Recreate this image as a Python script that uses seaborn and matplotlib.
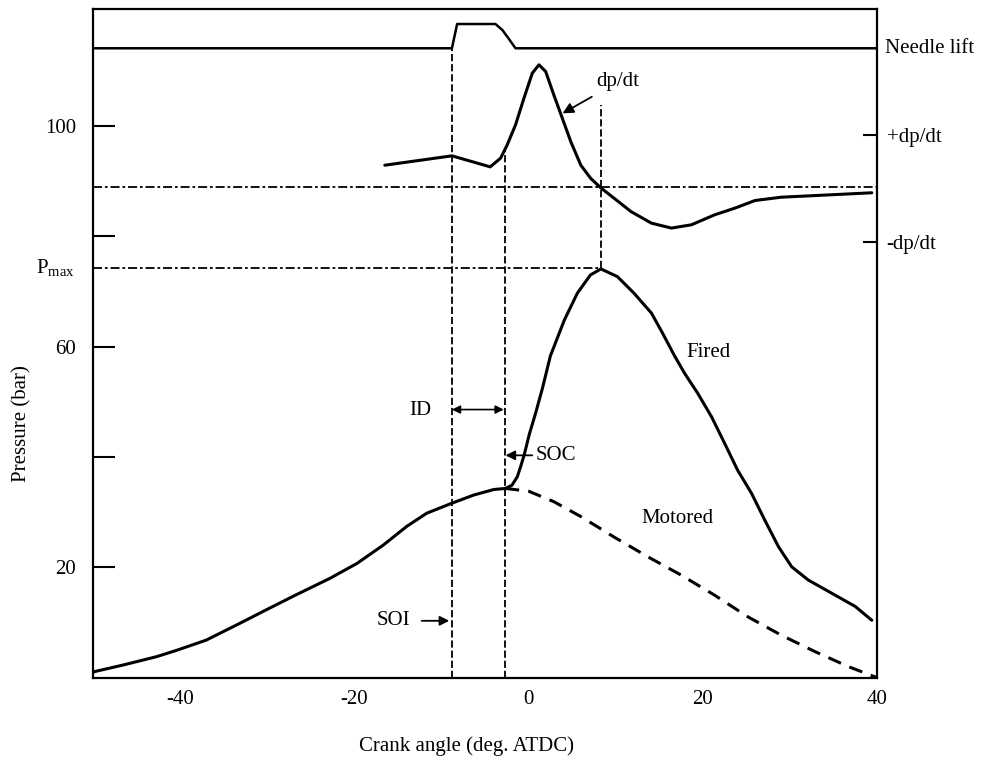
import matplotlib
matplotlib.use("Agg")
import matplotlib.pyplot as plt
import matplotlib.transforms as mtransforms
import numpy as np
import pandas as pd
import seaborn as sns

# ---------------- data ----------------
comp_angle = [-50, -49.8, -46.5, -42.7, -40.3, -37.0, -33.2, -30.1, -26.7, -22.8, -19.7,
              -16.7, -14.0, -11.7, -9.0, -6.3, -4.0, -2.65]
comp_p = [0.9, 1.1, 2.3, 3.8, 5.0, 6.8, 9.8, 12.3, 15.0, 18.0, 20.7,
          24.0, 27.4, 29.8, 31.5, 33.1, 34.1, 34.3]

fired_angle = [-2.65, -1.9, -1.3, -0.9, -0.5, 0.1, 0.8, 1.6, 2.5, 4.1, 5.6, 7.1, 8.3,
               10.2, 12.1, 14.1, 15.4, 16.7, 17.9, 19.4, 21.0, 22.5, 24.0, 25.6,
               27.1, 28.7, 30.2, 32.1, 34.8, 37.5, 39.4]
fired_p = [34.3, 34.9, 36.4, 38.3, 40.4, 44.2, 47.9, 52.5, 58.3, 64.8, 69.7, 73.0, 74.1,
           72.7, 69.7, 66.1, 62.4, 58.5, 55.2, 51.6, 47.3, 42.5, 37.6, 33.4,
           28.6, 23.7, 20.1, 17.7, 15.3, 12.9, 10.4]

motored_angle = [-2.65, 0.0, 2.9, 6.0, 9.8, 13.7, 17.5, 21.3, 25.2, 29.0, 32.9, 36.7, 40.0]
motored_p = [34.3, 33.8, 31.9, 29.2, 25.5, 21.9, 18.6, 15.0, 11.0, 7.7, 4.7, 2.0, 0.0]

dpdt_angle = [-16.5, -8.8, -4.4, -3.2, -2.45, -1.5, -0.54, 0.43, 1.19, 1.96, 2.91, 3.88,
              4.84, 6.0, 7.14, 8.29, 9.83, 11.75, 14.1, 16.4, 18.7, 21.35, 23.65, 26.0,
              29.0, 39.4]
dpdt_val = [92.9, 94.6, 92.6, 94.2, 96.6, 100.2, 105.0, 109.6, 111.1, 109.9, 105.6, 101.4,
            97.2, 92.9, 90.5, 88.8, 86.9, 84.5, 82.4, 81.5, 82.1, 83.9, 85.1, 86.5,
            87.1, 87.9]

needle_angle = [-50, -8.8, -8.2, -3.8, -3.0, -2.3, -1.5, 40]
needle_val = [114.1, 114.1, 118.5, 118.5, 117.4, 115.9, 114.1, 114.1]

SOI = -8.8
SOC = -2.65
THETA_PMAX = 8.3
P_MAX = 74.3
DPDT_ZERO = 89.0
NEEDLE_BASE = 114.1
SOC_TOP = 95.6
PMAX_TOP = 103.8

x_ticks = [-40, -30, -20, -10, 0, 10, 20, 30, 40]
x_ticklabels = ["-40", "", "-20", "", "0", "", "20", "", "40"]
y_ticks = [20, 40, 60, 80, 100]
y_ticklabels = ["20", "", "60", "", "100"]
right_ticks = [79.0, 98.4]
right_ticklabels = ["-dp/dt", "+dp/dt"]

# ---------------- style ----------------
sns.set_theme(style="white")
plt.rcParams["font.family"] = ["Liberation Serif", "DejaVu Serif"]
plt.rcParams["mathtext.fontset"] = "stix"
plt.rcParams["axes.unicode_minus"] = False
for k in ("text.color", "axes.labelcolor", "xtick.color", "ytick.color", "axes.edgecolor"):
    plt.rcParams[k] = "black"
FS = 15

fig = plt.figure(figsize=(9.82, 7.60), dpi=100)
ax = fig.add_axes([0.0947, 0.1084, 0.7984, 0.8796])

LW = 2.2
df_comp = pd.DataFrame({"angle": comp_angle, "p": comp_p})
df_fired = pd.DataFrame({"angle": fired_angle, "p": fired_p})
df_mot = pd.DataFrame({"angle": motored_angle, "p": motored_p})
df_dp = pd.DataFrame({"angle": dpdt_angle, "p": dpdt_val})
df_nl = pd.DataFrame({"angle": needle_angle, "p": needle_val})

for d in (df_comp, df_fired, df_dp):
    sns.lineplot(data=d, x="angle", y="p", ax=ax, color="black", lw=LW,
                 estimator=None, sort=False, solid_joinstyle="round",
                 solid_capstyle="round")
sns.lineplot(data=df_nl, x="angle", y="p", ax=ax, color="black", lw=1.8,
             estimator=None, sort=False, solid_joinstyle="round")
sns.lineplot(data=df_mot, x="angle", y="p", ax=ax, color="black", lw=LW,
             estimator=None, sort=False, linestyle=(0, (4.5, 3)))

# reference dashed lines
ref_ls = (0, (4, 1.6))
ref_lw = 1.3
dd_ls = (0, (5, 1.6, 1.5, 1.6))
ax.plot([SOI, SOI], [0, NEEDLE_BASE], color="black", lw=ref_lw, ls=ref_ls)
ax.plot([SOC, SOC], [0, SOC_TOP], color="black", lw=ref_lw, ls=ref_ls)
ax.plot([THETA_PMAX, THETA_PMAX], [P_MAX, PMAX_TOP], color="black", lw=ref_lw, ls=ref_ls)
ax.plot([-50, 40], [DPDT_ZERO, DPDT_ZERO], color="black", lw=ref_lw, ls=dd_ls)
ax.plot([-50, THETA_PMAX], [P_MAX, P_MAX], color="black", lw=ref_lw, ls=dd_ls)

ax.set_xlim(-50, 40)
ax.set_ylim(0, 121.2)
ax.set_xticks(x_ticks)
ax.set_xticklabels(x_ticklabels, fontsize=FS)
ax.set_yticks(y_ticks)
ax.set_yticklabels(y_ticklabels, fontsize=FS)
ax.tick_params(axis="x", direction="in", length=13, width=1.5, pad=9, colors="black")
ax.tick_params(axis="y", direction="in", length=16, width=1.5, pad=12, colors="black")
for s in ax.spines.values():
    s.set_visible(True)
    s.set_color("black")
    s.set_linewidth(1.6)

ax.set_xlabel("Crank angle (deg. ATDC)", fontsize=FS, color="black")
ax.xaxis.set_label_coords(0.476, -0.087)
ax.set_ylabel("Pressure (bar)", fontsize=FS, color="black")
ax.yaxis.set_label_coords(-0.079, 0.38)

ax2 = ax.twinx()
ax2.set_ylim(ax.get_ylim())
ax2.set_yticks(right_ticks)
ax2.set_yticklabels(right_ticklabels, fontsize=FS)
ax2.tick_params(axis="y", direction="in", length=10, width=1.5, pad=7, colors="black")
for s in ax2.spines.values():
    s.set_visible(False)

# text labels
trans_left = mtransforms.blended_transform_factory(ax.transAxes, ax.transData)
ax.text(-0.023, P_MAX, r"$\mathregular{P_{max}}$", transform=trans_left,
        ha="right", va="center", fontsize=FS)
ax.text(1.010, NEEDLE_BASE, "Needle lift", transform=trans_left,
        ha="left", va="center", fontsize=FS)

ax.text(20.7, 58.9, "Fired", ha="center", va="center", fontsize=FS)
ax.text(17.1, 28.9, "Motored", ha="center", va="center", fontsize=FS)
ax.text(-12.4, 48.5, "ID", ha="center", va="center", fontsize=FS)

arrow_kw = dict(arrowstyle="-|>", color="black", lw=1.3, mutation_scale=14,
                shrinkA=0, shrinkB=0)
ax.annotate("dp/dt", xy=(3.9, 102.3), xytext=(7.8, 108.0), fontsize=FS,
            ha="left", va="center",
            arrowprops=dict(arrowstyle="-|>", color="black", lw=1.3,
                            mutation_scale=16, shrinkA=3, shrinkB=0))
ax.annotate("SOC", xy=(SOC, 40.3), xytext=(0.8, 40.3), fontsize=FS,
            ha="left", va="center", arrowprops=arrow_kw)
ax.annotate("SOI", xy=(SOI - 0.3, 10.3), xytext=(-13.6, 10.3), fontsize=FS,
            ha="right", va="center",
            arrowprops=dict(arrowstyle="-|>", color="black", lw=1.3,
                            mutation_scale=14, shrinkA=6, shrinkB=0))
ax.annotate("", xy=(SOI, 48.6), xytext=(SOC - 0.2, 48.6),
            arrowprops=dict(arrowstyle="<|-|>", color="black", lw=1.2,
                            mutation_scale=12, shrinkA=0, shrinkB=0))

fig.savefig("out.png", dpi=100, facecolor="white")
